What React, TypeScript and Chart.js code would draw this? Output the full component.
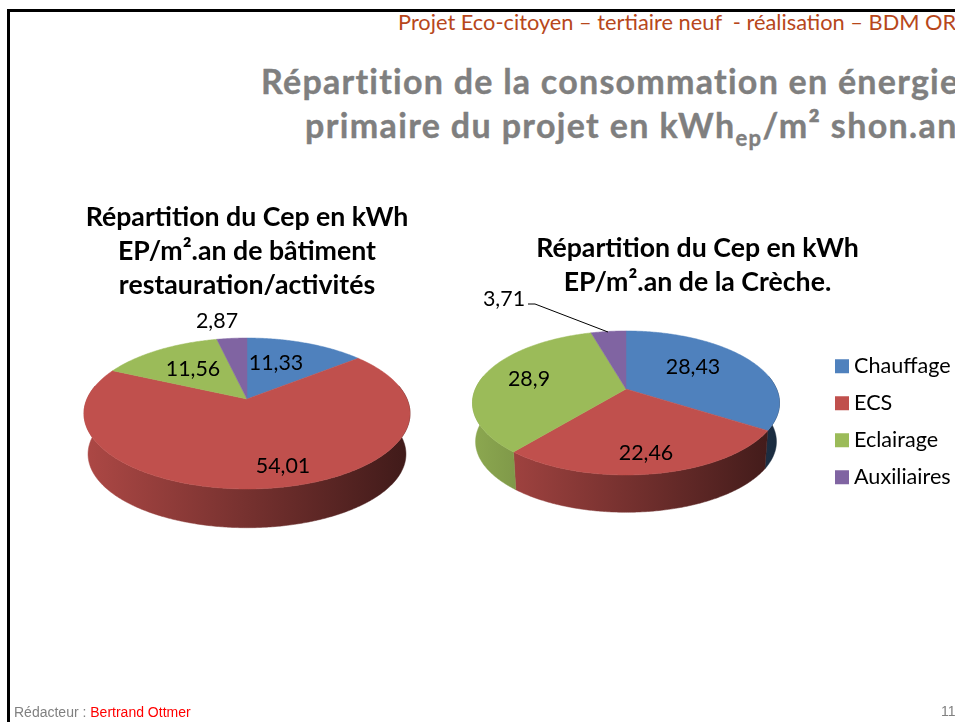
import React, { useEffect, useRef } from "react";
import { Chart, registerables } from "chart.js";

Chart.register(...registerables);

const CATEGORIES = ["Chauffage", "ECS", "Eclairage", "Auxiliaires"];
const COLORS = ["#4F81BD", "#C0504D", "#9BBB59", "#8064A2"];
const VALUES_BATIMENT = [11.33, 54.01, 11.56, 2.87];
const VALUES_CRECHE = [28.43, 22.46, 28.9, 3.71];
const TITLE_BATIMENT = ["Répartition du Cep en kWh", "EP/m².an de bâtiment", "restauration/activités"];
const TITLE_CRECHE = ["Répartition du Cep en kWh", "EP/m².an de la Crèche."];

const FONT = "Lato";

type Geo = {
  cx: number; cy: number; D: number; A: number; c: number; R: number;
  depth: number; wallScale: number;
  labels: number[][];
  leader?: number[][];
};

const GEO_BATIMENT: Geo = {
  cx: 247, cy: 399, D: 160, A: 72.7, c: -0.192, R: 163,
  depth: 41, wallScale: 0.975,
  labels: [[276, 363], [283, 466], [193, 369], [217, 321]],
};
const GEO_CRECHE: Geo = {
  cx: 626, cy: 389, D: 150.6, A: 69.3, c: -0.194, R: 153.5,
  depth: 39, wallScale: 0.98,
  labels: [[693, 367], [646, 453], [529, 379], [504, 299]],
  leader: [[528, 304], [535, 304], [608, 332]],
};

function shade(hex: string, f: number) {
  const n = parseInt(hex.slice(1), 16);
  const r = Math.round(((n >> 16) & 255) * f);
  const g = Math.round(((n >> 8) & 255) * f);
  const b = Math.round((n & 255) * f);
  return `rgb(${r},${g},${b})`;
}

function makePlugin(geo: Geo, originX: number, legendPos?: number[]) {
  const project = (u: number, v: number) => {
    const den = 1 + geo.c * v;
    return [geo.D * (u / den), geo.A * (v / den)];
  };
  const sample = (a0: number, a1: number) => {
    const pts: number[][] = [];
    const n = Math.max(2, Math.ceil((a1 - a0) / 0.01));
    for (let i = 0; i <= n; i++) {
      const a = a0 + ((a1 - a0) * i) / n;
      pts.push([Math.cos(a), Math.sin(a)]);
    }
    return pts;
  };
  return {
    id: "pie3d",
    afterLayout(chart: any) {
      if (legendPos && chart.legend) {
        const l = chart.legend;
        const pad = l.options.labels.padding;
        l.left = legendPos[0] - pad;
        l.top = legendPos[1] - pad;
        l.right = l.left + 300;
        l.bottom = l.top + 300;
      }
    },
    beforeDatasetsDraw(chart: any) {
      const ctx = chart.ctx;
      const arcs = chart.getDatasetMeta(0).data;
      const ox = geo.cx - originX;
      ctx.save();
      // side wall
      arcs.forEach((arc: any) => {
        const { startAngle, endAngle } = arc.getProps(["startAngle", "endAngle"], true);
        const front = sample(startAngle, endAngle).filter((p) => p[1] >= geo.c);
        if (front.length < 2) return;
        const col = arc.options.backgroundColor;
        const g = ctx.createLinearGradient(ox - geo.R, 0, ox + geo.R, 0);
        g.addColorStop(0, shade(col, 0.9));
        g.addColorStop(1, shade(col, 0.33));
        ctx.beginPath();
        front.forEach((p, i) => {
          const [x, y] = project(p[0], p[1]);
          if (i === 0) ctx.moveTo(ox + x, geo.cy + y);
          else ctx.lineTo(ox + x, geo.cy + y);
        });
        front.slice().reverse().forEach((p) => {
          const [x, y] = project(p[0], p[1]);
          ctx.lineTo(ox + x * geo.wallScale, geo.cy + y * geo.wallScale + geo.depth);
        });
        ctx.closePath();
        ctx.fillStyle = g;
        ctx.strokeStyle = g;
        ctx.lineWidth = 0.5;
        ctx.fill();
        ctx.stroke();
      });
      // top faces
      arcs.forEach((arc: any) => {
        const { startAngle, endAngle } = arc.getProps(["startAngle", "endAngle"], true);
        ctx.beginPath();
        ctx.moveTo(ox, geo.cy);
        sample(startAngle, endAngle).forEach((p) => {
          const [x, y] = project(p[0], p[1]);
          ctx.lineTo(ox + x, geo.cy + y);
        });
        ctx.closePath();
        ctx.fillStyle = arc.options.backgroundColor;
        ctx.strokeStyle = arc.options.backgroundColor;
        ctx.lineWidth = 0.5;
        ctx.fill();
        ctx.stroke();
      });
      // leader line
      if (geo.leader) {
        ctx.beginPath();
        geo.leader.forEach((p, i) => {
          if (i === 0) ctx.moveTo(p[0] - originX, p[1]);
          else ctx.lineTo(p[0] - originX, p[1]);
        });
        ctx.strokeStyle = "#000";
        ctx.lineWidth = 1;
        ctx.stroke();
      }
      // value labels
      const values = chart.data.datasets[0].data;
      ctx.font = `21.4px ${FONT}`;
      ctx.fillStyle = "#000";
      ctx.textAlign = "center";
      ctx.textBaseline = "middle";
      values.forEach((v: number, i: number) => {
        ctx.fillText(String(v).replace(".", ","), geo.labels[i][0] - originX, geo.labels[i][1]);
      });
      ctx.restore();
    },
    beforeDatasetDraw() {
      return false;
    },
  };
}

function PieChart(props: {
  left: number; width: number; values: number[]; title: string[]; titleTop: number;
  geo: Geo; legend: boolean;
}) {
  const ref = useRef<HTMLCanvasElement>(null);
  useEffect(() => {
    const chart = new Chart(ref.current as HTMLCanvasElement, {
      type: "pie",
      data: {
        labels: CATEGORIES,
        datasets: [{ data: props.values, backgroundColor: COLORS, borderWidth: 0 }],
      },
      options: {
        responsive: false,
        maintainAspectRatio: false,
        animation: false,
        events: [],
        plugins: {
          tooltip: { enabled: false },
          title: {
            display: true,
            text: props.title,
            color: "#000",
            font: { family: FONT, size: 26.7, weight: "bold", lineHeight: 1.273 },
            padding: { top: props.titleTop, bottom: 0 },
          },
          legend: {
            display: props.legend,
            position: "right",
            align: "start",
            labels: {
              color: "#000",
              font: { family: FONT, size: 21.6 },
              usePointStyle: true,
              pointStyle: "rect",
              boxWidth: 2.4,
              boxHeight: 14,
              padding: 15.4,
            },
          },
        },
      } as any,
      plugins: [makePlugin(props.geo, props.left, props.legend ? [400.8, 355.5] : undefined)],
    });
    return () => chart.destroy();
  }, []);
  return (
    <canvas
      ref={ref}
      width={props.width}
      height={722}
      style={{ position: "absolute", left: props.left, top: 0, width: props.width, height: 722 }}
    />
  );
}

const abs = (o: React.CSSProperties): React.CSSProperties => ({
  position: "absolute",
  whiteSpace: "pre",
  ...o,
});

export default function App() {
  const heading: React.CSSProperties = {
    fontFamily: FONT,
    fontWeight: 700,
    fontSize: 34,
    letterSpacing: 1.25,
    lineHeight: "40px",
    color: "#7f7f7f",
    WebkitTextStroke: "0.4px #7f7f7f",
  };
  return (
    <div style={{ position: "fixed", left: 0, top: 0, width: 955, height: 722, overflow: "hidden", background: "#fff" }}>
      <div style={{ position: "absolute", left: 7, top: 9, width: 948, height: 3, background: "#000" }} />
      <div style={{ position: "absolute", left: 7, top: 9, width: 3, height: 713, background: "#000" }} />
      <div style={abs({ left: 398, top: 10, fontFamily: FONT, fontSize: 21.8, lineHeight: "24px", color: "#B7471B" })}>
        {"Projet Eco-citoyen – tertiaire neuf  - réalisation – BDM OR"}
      </div>
      <div style={abs({ ...heading, left: 261, top: 61 })}>Répartition de la consommation en énergie</div>
      <div style={abs({ ...heading, left: 305, top: 105, letterSpacing: 1.36 })}>
        primaire du projet en kWh<sub style={{ fontSize: 22, lineHeight: 0 }}>ep</sub>/m² shon.an
      </div>
      <PieChart left={0} width={494} values={VALUES_BATIMENT} title={TITLE_BATIMENT} titleTop={200} geo={GEO_BATIMENT} legend={false} />
      <PieChart left={440} width={515} values={VALUES_CRECHE} title={TITLE_CRECHE} titleTop={231} geo={GEO_CRECHE} legend={true} />
      <div style={abs({ left: 14, top: 704, fontFamily: "'Liberation Sans'", fontSize: 14, lineHeight: "16px", color: "#808080" })}>
        {"Rédacteur : "}<span style={{ color: "#ff0000" }}>Bertrand Ottmer</span>
      </div>
      <div style={abs({ left: 941, top: 703, fontFamily: "'Liberation Sans'", fontSize: 14, lineHeight: "16px", color: "#808080" })}>11</div>
    </div>
  );
}
